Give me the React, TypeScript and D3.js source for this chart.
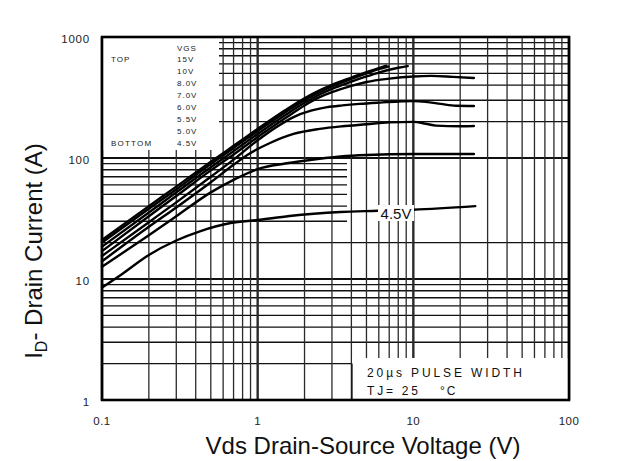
import React from "react";
import * as d3 from "d3";

const X_TICKS = [0.1, 1, 10, 100];
const X_TICK_LABELS = ["0.1", "1", "10", "100"];
const Y_TICKS = [1, 10, 100, 1000];
const Y_TICK_LABELS = ["1", "10", "100", "1000"];

const VGS_LABELS = ["15V", "10V", "8.0V", "7.0V", "6.0V", "5.5V", "5.0V", "4.5V"];

const vgs15: [number, number][] = [[0.1, 21], [0.2, 40], [0.3, 58], [0.5, 93], [0.7, 126], [1, 174], [1.5, 248], [2, 312], [2.5, 362], [3, 402], [4, 462], [5, 512], [6, 553], [6.7, 580]];
const vgs10: [number, number][] = [[0.1, 20], [0.2, 38], [0.3, 55], [0.5, 89], [0.7, 121], [1, 167], [1.5, 238], [2, 300], [2.5, 350], [3, 390], [4, 450], [5, 500], [6, 542], [6.9, 570]];
const vgs8: [number, number][] = [[0.1, 18.5], [0.2, 35.5], [0.3, 52], [0.5, 84], [0.7, 114], [1, 158], [1.5, 226], [2, 286], [2.5, 335], [3, 373], [4, 428], [5, 472], [6, 508], [7, 536], [8, 557], [9.2, 575]];
const vgs7: [number, number][] = [[0.1, 17], [0.2, 33], [0.3, 48.5], [0.5, 79], [0.7, 107], [1, 149], [1.5, 213], [2, 272], [2.5, 318], [3, 350], [4, 395], [5, 425], [7, 453], [10, 472], [13, 477], [18, 468], [24.5, 458]];
const vgs6: [number, number][] = [[0.1, 15.5], [0.2, 29.5], [0.3, 43], [0.5, 70], [0.7, 97], [1, 140], [1.3, 178], [1.7, 218], [2.2, 246], [2.8, 263], [3.5, 272], [4.5, 280], [6, 287], [8, 293], [10, 295], [12, 291], [15, 280], [18.8, 270], [24.5, 269]];
const vgs55: [number, number][] = [[0.1, 14], [0.2, 27], [0.3, 39], [0.5, 63], [0.7, 88], [0.9, 110], [1.2, 133], [1.7, 158], [2.5, 174], [3.5, 183], [5, 190], [7, 197], [10, 199], [12, 192], [14, 185], [20, 183], [24.5, 184]];
const vgs5: [number, number][] = [[0.1, 12.6], [0.2, 23], [0.3, 33], [0.5, 52], [0.7, 66], [1, 81], [1.5, 90], [2, 95], [3.4, 103], [5, 106], [10, 108], [24.5, 108]];
const vgs45: [number, number][] = [[0.1, 8.5], [0.132, 10.8], [0.2, 15.8], [0.3, 20.8], [0.43, 24.9], [0.67, 29], [1, 30.7], [1.6, 33.2], [3.4, 35.8], [5.9, 36.6], [10, 37.4], [25, 40]];

const SERIES = [vgs15, vgs10, vgs8, vgs7, vgs6, vgs55, vgs5, vgs45];

const FONT = "'Liberation Sans', Arial, Helvetica, sans-serif";

export default function App() {
  const W = 632, H = 461;
  const x = d3.scaleLog().domain([0.1, 100]).range([102, 569]);
  const y = d3.scaleLog().domain([1, 1000]).range([400, 37]);

  const gridVals: { v: number; major: boolean }[] = [];
  [0.1, 1, 10].forEach((d) => {
    for (let k = 1; k <= 9; k++) gridVals.push({ v: d * k, major: k === 1 });
  });
  gridVals.push({ v: 100, major: true });
  const yGridVals: { v: number; major: boolean }[] = [];
  [1, 10, 100].forEach((d) => {
    for (let k = 1; k <= 9; k++) yGridVals.push({ v: d * k, major: k === 1 });
  });
  yGridVals.push({ v: 1000, major: true });

  const line = d3
    .line<[number, number]>()
    .x((d) => x(d[0]))
    .y((d) => y(d[1]))
    .curve(d3.curveMonotoneX);

  const [x0, x1] = x.range();
  const [yb, yt] = y.range();

  return (
    <svg width={W} height={H} style={{ position: "absolute", left: 0, top: 0, background: "#fff" }}>
      <rect x={0} y={0} width={W} height={H} fill="#fff" />
      {yGridVals.map((g, i) => (
        <line key={"h" + i} x1={x0} x2={x1} y1={y(g.v)} y2={y(g.v)} stroke="#111" strokeWidth={g.major ? 2.2 : 1.3} />
      ))}
      <rect x={347} y={y(95)} width={x1 - 347} height={y(20.5) - y(95)} fill="#fff" />
      {gridVals.map((g, i) => (
        <line key={"v" + i} x1={x(g.v)} x2={x(g.v)} y1={yt} y2={yb} stroke="#2a2a2a" strokeWidth={g.major ? 2.4 : 1.3} />
      ))}
      {SERIES.map((s, i) => (
        <path key={"c" + i} d={line(s) || ""} fill="none" stroke="#000" strokeWidth={2.4} strokeLinejoin="round" strokeLinecap="round" />
      ))}
      <rect x={378} y={205} width={36} height={16} fill="#fff" />
      <text x={396} y={213.5} fontFamily={FONT} fontSize={15} textAnchor="middle" dominantBaseline="central" fill="#111">4.5V</text>
      <rect x={x0} y={yt} width={219 - x0} height={150 - yt} fill="#fff" />
      <text x={177} y={48} fontFamily={FONT} fontSize={8} letterSpacing={1} dominantBaseline="central" fill="#222">VGS</text>
      <text x={111} y={59.5} fontFamily={FONT} fontSize={8} letterSpacing={1} dominantBaseline="central" fill="#222">TOP</text>
      <text x={111} y={143.5} fontFamily={FONT} fontSize={8} letterSpacing={1.2} dominantBaseline="central" fill="#222">BOTTOM</text>
      {VGS_LABELS.map((l, i) => (
        <text key={"l" + i} x={177} y={59.5 + i * 12} fontFamily={FONT} fontSize={8} letterSpacing={1} dominantBaseline="central" fill="#222">{l}</text>
      ))}
      <rect x={352} y={358} width={x1 - 352} height={yb - 358} fill="#fff" />
      <line x1={352} x2={352} y1={y(2)} y2={yb} stroke="#111" strokeWidth={1.3} />
      <text x={367} y={373} fontFamily={FONT} fontSize={12} textLength={155} lengthAdjust="spacing" dominantBaseline="central" fill="#111">20µs PULSE WIDTH</text>
      <text x={367} y={391} fontFamily={FONT} fontSize={12} textLength={51} lengthAdjust="spacing" dominantBaseline="central" fill="#111">TJ= 25</text>
      <text x={440} y={391} fontFamily={FONT} fontSize={12} letterSpacing={2} dominantBaseline="central" fill="#111">°C</text>
      <rect x={x0} y={yt} width={x1 - x0} height={yb - yt} fill="none" stroke="#000" strokeWidth={2.6} />
      {X_TICKS.map((t, i) => (
        <text key={"xt" + i} x={x(t)} y={421} fontFamily={FONT} fontSize={11.5} letterSpacing={0.5} textAnchor="middle" dominantBaseline="central" fill="#222">{X_TICK_LABELS[i]}</text>
      ))}
      {Y_TICKS.map((t, i) => (
        <text key={"yt" + i} x={90} y={y(t) + 2} fontFamily={FONT} fontSize={11.5} letterSpacing={0.8} textAnchor="end" dominantBaseline="central" fill="#222">{Y_TICK_LABELS[i]}</text>
      ))}
      <text x={363} y={445} fontFamily={FONT} fontSize={24} textAnchor="middle" dominantBaseline="central" fill="#111">Vds Drain-Source Voltage (V)</text>
      <text transform="translate(42,251) rotate(-90)" fontFamily={FONT} fontSize={24} textAnchor="middle" fill="#111">
        I<tspan fontSize={16} dy={5}>D</tspan><tspan dy={-5}>- Drain Current (A)</tspan>
      </text>
    </svg>
  );
}
